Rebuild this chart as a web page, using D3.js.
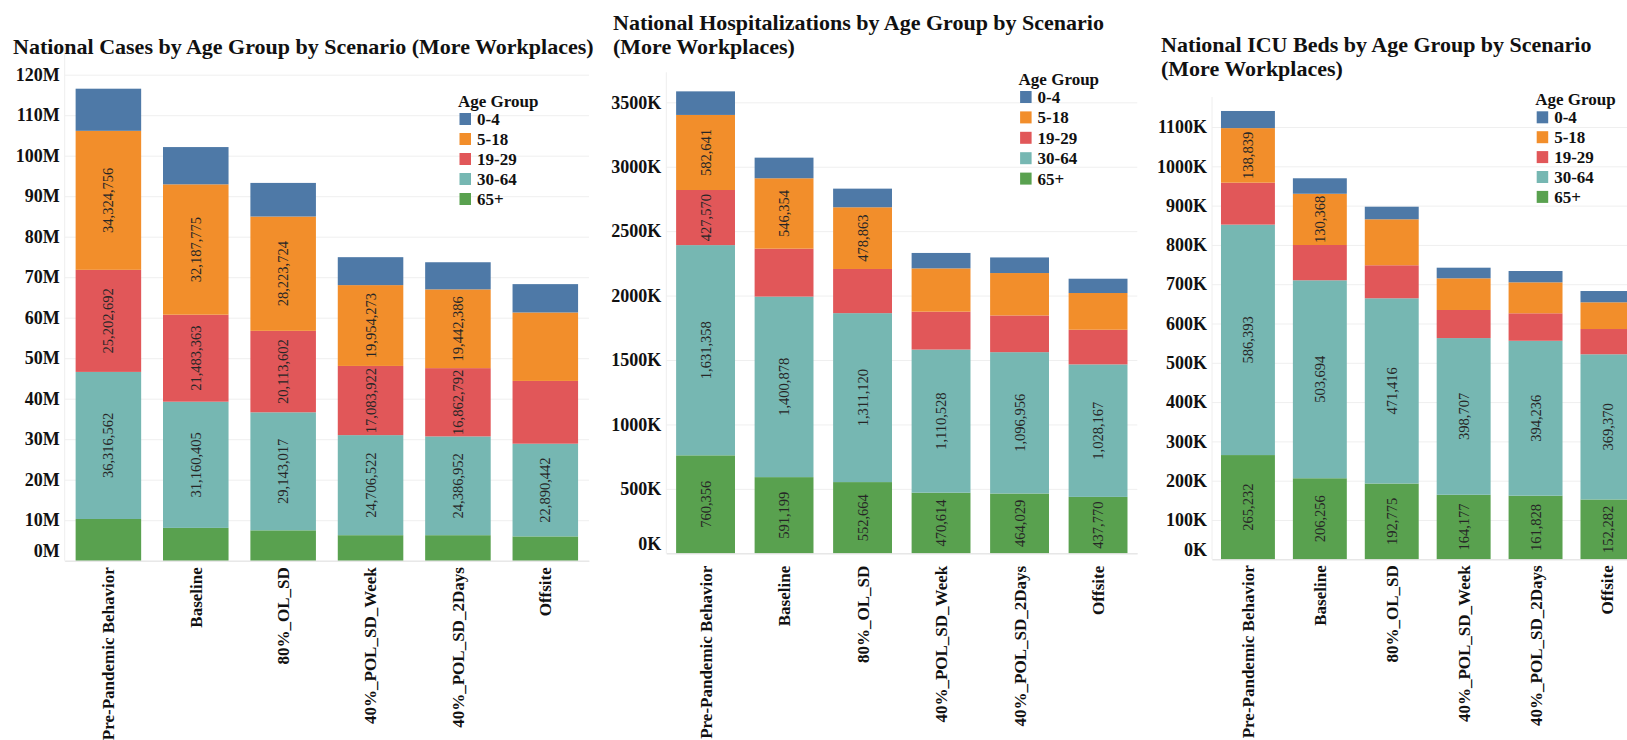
<!DOCTYPE html>
<html>
<head>
<meta charset="utf-8">
<script src="https://cdn.jsdelivr.net/npm/d3@7"></script>
<style>
  body { margin: 0; background: #fff; overflow: hidden; }
  svg { display: block; font-family: 'Liberation Serif', 'Times New Roman', serif; }
</style>
</head>
<body>
<div id="chart"></div>
<script>
// Categories
const scenarios = ['Pre-Pandemic Behavior', 'Baseline', '80%_OL_SD', '40%_POL_SD_Week', '40%_POL_SD_2Days', 'Offsite']
const ageGroups = ['0-4', '5-18', '19-29', '30-64', '65+']
const stackOrder = ['65+', '30-64', '19-29', '5-18', '0-4']   // bottom to top
const ageColors = ['#4e79a7', '#f28e2b', '#e15759', '#76b7b2', '#59a14f']

// National cases (one value per scenario)
const cases04   = [10400000, 9200000, 8300000, 6900000, 6700000, 7000000]
const cases518  = [34324756, 32187775, 28223724, 19954273, 19442386, 16900000]
const cases1929 = [25202692, 21483363, 20113602, 17083922, 16862792, 15500000]
const cases3064 = [36316562, 31160405, 29143017, 24706522, 24386952, 22890442]
const cases65   = [10300000, 8100000, 7500000, 6300000, 6300000, 6000000]

// National hospitalizations
const hosp04   = [183000, 160000, 144600, 119700, 121000, 111000]
const hosp518  = [582641, 546354, 478863, 336000, 329000, 285000]
const hosp1929 = [427570, 372000, 342700, 294000, 285000, 269000]
const hosp3064 = [1631358, 1400878, 1311120, 1110528, 1096956, 1028167]
const hosp65   = [760356, 591199, 552664, 470614, 464029, 437770]

// National ICU beds
const icu04   = [43600, 39400, 32000, 27000, 28800, 28700]
const icu518  = [138839, 130368, 117000, 80600, 78800, 68000]
const icu1929 = [106700, 89800, 84000, 71500, 69900, 64300]
const icu3064 = [586393, 503694, 471416, 398707, 394236, 369370]
const icu65   = [265232, 206256, 192775, 164177, 161828, 152282]

// Which segments carry a value label (rows = scenarios, cols = ageGroups)
const casesLabelMask = [[0,1,1,1,0],[0,1,1,1,0],[0,1,1,1,0],[0,1,1,1,0],[0,1,1,1,0],[0,0,0,1,0]]
const hospLabelMask  = [[0,1,1,1,1],[0,1,0,1,1],[0,1,0,1,1],[0,0,0,1,1],[0,0,0,1,1],[0,0,0,1,1]]
const icuLabelMask   = [[0,1,0,1,1],[0,1,0,1,1],[0,0,0,1,1],[0,0,0,1,1],[0,0,0,1,1],[0,0,0,1,1]]

// Axis ticks
const casesTicks = d3.range(0, 120000001, 10000000)
const hospTicks  = d3.range(0, 3500001, 500000)
const icuTicks   = d3.range(0, 1100001, 100000)

const charts = [
  {
    title: ['National Cases by Age Group by Scenario (More Workplaces)'],
    series: [cases04, cases518, cases1929, cases3064, cases65],
    mask: casesLabelMask, ticks: casesTicks, fmt: v => `${v / 1e6}M`,
    x0: 64.7, x1: 589, base: 560.7, topY: 74.7, titleX: 13, titleY: [53.5],
    legX: 458, legY: 101, legStep: 20, xGap: 6.5
  },
  {
    title: ['National Hospitalizations by Age Group by Scenario', '(More Workplaces)'],
    series: [hosp04, hosp518, hosp1929, hosp3064, hosp65],
    mask: hospLabelMask, ticks: hospTicks, fmt: v => `${v / 1000}K`,
    x0: 666.3, x1: 1137.3, base: 553.3, topY: 102.3, titleX: 613, titleY: [29.5, 54],
    legX: 1018.6, legY: 79, legStep: 20.4, xGap: 12.5
  },
  {
    title: ['National ICU Beds by Age Group by Scenario', '(More Workplaces)'],
    series: [icu04, icu518, icu1929, icu3064, icu65],
    mask: icuLabelMask, ticks: icuTicks, fmt: v => `${v / 1000}K`,
    x0: 1212, x1: 1643.4, base: 559.3, topY: 127, titleX: 1161, titleY: [51.7, 76],
    legX: 1535.2, legY: 99.3, legStep: 19.9, xGap: 6
  }
]

const W = 1627, H = 740
const svg = d3.select('#chart').append('svg').attr('width', W).attr('height', H)
const color = d3.scaleOrdinal().domain(ageGroups).range(ageColors)
const num = d3.format(',')

charts.forEach(c => {
  const rows = scenarios.map((s, i) => {
    const r = { scenario: s, idx: i }
    ageGroups.forEach((a, j) => { r[a] = c.series[j][i] })
    return r
  })
  const stacked = d3.stack().keys(stackOrder)(rows)

  const x = d3.scaleBand().domain(scenarios).range([c.x0, c.x1])
              .paddingInner(0.25).paddingOuter(0.125)
  const y = d3.scaleLinear().domain([0, d3.max(c.ticks)]).range([c.base, c.topY])

  const g = svg.append('g')

  // Gridlines + y labels
  const yAxis = d3.axisLeft(y).tickValues(c.ticks).tickFormat(c.fmt)
                  .tickSize(-(c.x1 - c.x0)).tickPadding(5)
  const yg = g.append('g').attr('transform', `translate(${c.x0},0)`).call(yAxis)
  yg.select('.domain').remove()
  yg.selectAll('.tick line').attr('stroke', '#efefef').attr('stroke-width', 1)
  yg.selectAll('.tick text')
    .attr('fill', '#111').style('font-size', '18px').style('font-weight', 'bold')
    .style('font-family', "'Liberation Serif', serif")
  yg.selectAll('.tick').filter(d => d === 0).select('text').attr('y', -10)

  // pane left border
  g.append('line').attr('x1', c.x0).attr('x2', c.x0)
    .attr('y1', c.topY - 30).attr('y2', c.base)
    .attr('stroke', '#eeeeee')

  // Bars
  const layers = g.append('g').selectAll('g').data(stacked).join('g')
    .attr('fill', d => color(d.key))
  layers.selectAll('rect').data(d => d).join('rect')
    .attr('x', d => x(d.data.scenario))
    .attr('y', d => y(d[1]))
    .attr('width', x.bandwidth())
    .attr('height', d => y(d[0]) - y(d[1]))

  // Value labels
  stacked.forEach(layer => {
    const ai = ageGroups.indexOf(layer.key)
    layer.forEach(d => {
      if (!c.mask[d.data.idx][ai]) return
      const cx = x(d.data.scenario) + x.bandwidth() / 2
      const cy = (y(d[0]) + y(d[1])) / 2
      g.append('text')
        .attr('transform', `translate(${cx},${cy}) rotate(-90)`)
        .attr('text-anchor', 'middle').attr('dy', '0.35em')
        .attr('fill', '#262626').style('font-size', '14.5px')
        .text(num(d.data[layer.key]))
    })
  })

  // X axis
  const xAxis = d3.axisBottom(x).tickSize(0).tickSizeOuter(0)
  const xg = g.append('g').attr('transform', `translate(0,${c.base})`).call(xAxis)
  xg.select('.domain').attr('stroke', '#e2e2e2')
  xg.selectAll('.tick text')
    .attr('transform', 'rotate(-90)').attr('x', -c.xGap).attr('y', 0).attr('dy', '0.35em')
    .style('text-anchor', 'end').attr('fill', '#111')
    .style('font-size', '17px').style('font-weight', 'bold')
    .style('font-family', "'Liberation Serif', serif")

  // Title
  c.title.forEach((t, i) => {
    g.append('text').attr('x', c.titleX).attr('y', c.titleY[i])
      .attr('fill', '#111').style('font-size', '22px').style('font-weight', 'bold')
      .text(t)
  })

  // Legend
  const leg = g.append('g')
  leg.append('text').attr('x', c.legX).attr('y', c.legY).attr('dy', '0.35em')
    .attr('fill', '#111').style('font-size', '17px').style('font-weight', 'bold')
    .text('Age Group')
  ageGroups.forEach((a, i) => {
    const ry = c.legY + 18 + i * c.legStep
    leg.append('rect').attr('x', c.legX + 1.5).attr('y', ry - 6)
      .attr('width', 11.5).attr('height', 12).attr('fill', color(a))
    leg.append('text').attr('x', c.legX + 19).attr('y', ry).attr('dy', '0.35em')
      .attr('fill', '#111').style('font-size', '17px').style('font-weight', 'bold')
      .text(a)
  })
})
</script>
</body>
</html>
